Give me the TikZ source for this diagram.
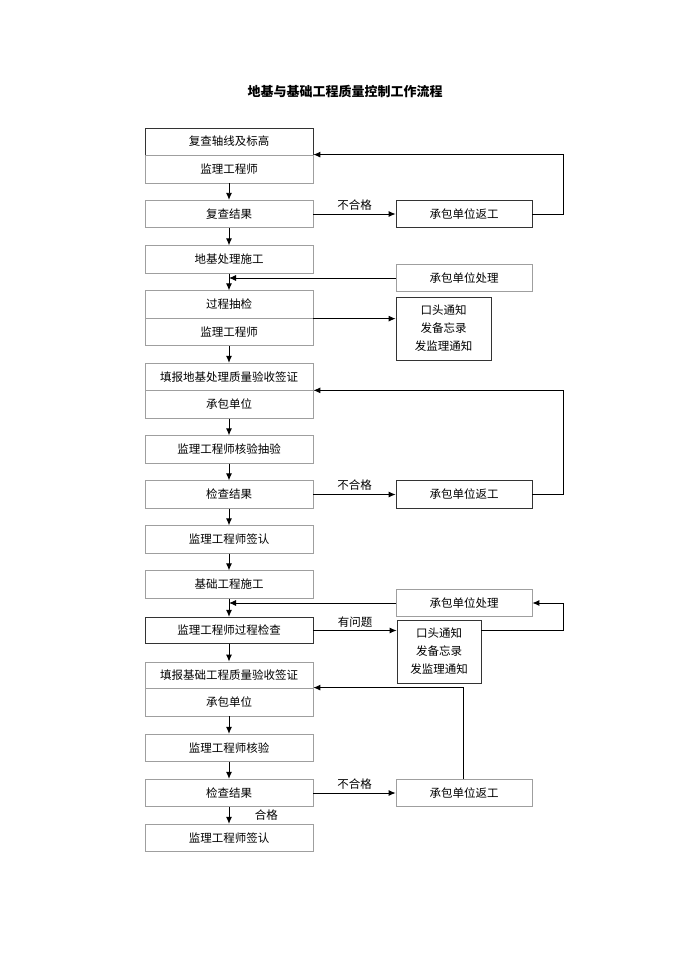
\documentclass[tikz,border=0pt]{standalone}
\usepackage{fontspec}
\newfontfamily\cjk{Noto Sans CJK SC}
\usetikzlibrary{arrows.meta}

\tikzset{
    box/.style={draw=gray!75, line width=0.8pt, minimum width=168pt, minimum height=27.5pt, inner sep=0pt, font=\cjk\fontsize{11.5}{18}\selectfont},
    darkbox/.style={box, draw=black!80},
    rbox/.style={box, draw=black!80, minimum width=136pt},
    pbox/.style={box, minimum width=136pt},
    notebox/.style={box, draw=black!80, minimum height=63pt, align=center},
    arr/.style={-{Latex[length=7pt, width=6pt]}, line width=0.9pt},
    lbl/.style={font=\cjk\fontsize{11.5}{14}\selectfont, inner sep=1.5pt}
}

\begin{document}
\begin{tikzpicture}[x=1pt, y=-1pt]
        \useasboundingbox (0, 0) rectangle (690, 976);
        
        % Title
        \node[font=\cjk\bfseries\fontsize{13}{16}\selectfont] (title) at (345, 92) {地基与基础工程质量控制工作流程};
        
        % Left column
        \node[darkbox, minimum height=27pt] (a1) at (229, 141.5) {复查轴线及标高};
        \node[box, minimum height=28pt] (a2) at (229, 169) {监理工程师};
        \node[box] (b) at (229, 214) {复查结果};
        \node[box] (c) at (229, 259.5) {地基处理施工};
        \node[box] (d1) at (229, 304.5) {过程抽检};
        \node[box] (d2) at (229, 332) {监理工程师};
        \node[box] (e1) at (229, 377) {填报地基处理质量验收签证};
        \node[box] (e2) at (229, 404.5) {承包单位};
        \node[box] (f) at (229, 449.5) {监理工程师核验抽验};
        \node[box] (g) at (229, 494.5) {检查结果};
        \node[box] (h) at (229, 539.5) {监理工程师签认};
        \node[box] (i) at (229, 584.5) {基础工程施工};
        \node[darkbox, minimum height=26.5pt] (j) at (229, 630.5) {监理工程师过程检查};
        \node[box, minimum height=26pt] (k1) at (229, 675) {填报基础工程质量验收签证};
        \node[box, minimum height=28pt] (k2) at (229, 702) {承包单位};
        \node[box] (l) at (229, 748) {监理工程师核验};
        \node[box] (m) at (229, 793) {检查结果};
        \node[box] (n) at (229, 838) {监理工程师签认};
        
        % Right column
        \node[rbox] (r1) at (464, 214) {承包单位返工};
        \node[pbox] (p1) at (464, 278) {承包单位处理};
        \node[notebox, minimum width=95pt] (q1) at (443.5, 328.5) {口头通知\\发备忘录\\发监理通知};
        \node[rbox] (r2) at (464, 494.5) {承包单位返工};
        \node[pbox] (p2) at (464, 603) {承包单位处理};
        \node[notebox, minimum width=84pt] (q2) at (439, 651.5) {口头通知\\发备忘录\\发监理通知};
        \node[pbox] (r3) at (464, 793) {承包单位返工};
        
        % Main flow
        \draw[arr] (a2) -- (b);
        \draw[arr] (b) -- (c);
        \draw[arr] (c) -- (d1);
        \draw[arr] (d2) -- (e1);
        \draw[arr] (e2) -- (f);
        \draw[arr] (f) -- (g);
        \draw[arr] (g) -- (h);
        \draw[arr] (h) -- (i);
        \draw[arr] (i) -- (j);
        \draw[arr] (j) -- (k1);
        \draw[arr] (k2) -- (l);
        \draw[arr] (l) -- (m);
        \draw[arr] (m) -- node[lbl, right=24pt] {合格} (n);
        
        % Branches
        \draw[arr] (b) -- node[lbl, above=2pt] {不合格} (r1);
        \draw[arr] (g) -- node[lbl, above=2pt] {不合格} (r2);
        \draw[arr] (m) -- node[lbl, above=2pt] {不合格} (r3);
        \draw[arr] (d1.south east) -- (d1.south east -| q1.west);
        \draw[arr] (j.east) -- node[lbl, above=1pt] {有问题} (j.east -| q2.west);
        \draw[arr] (p1.west) -- (p1.west -| c.south);
        \draw[arr] (p2.west) -- (p2.west -| i.south);
        
        % Feedback
        \draw[arr] (r1.east) -- ++(31, 0) |- (a2.north east);
        \draw[arr] (r2.east) -- ++(31, 0) |- (e2.north east);
        \draw[arr] (q2.east |- j.east) -- ++(82, 0) |- (p2.east);
        \draw[arr] (r3.north -| q2.east) ++(-18, 0) |- (k2.north east);
\end{tikzpicture}
\end{document}
